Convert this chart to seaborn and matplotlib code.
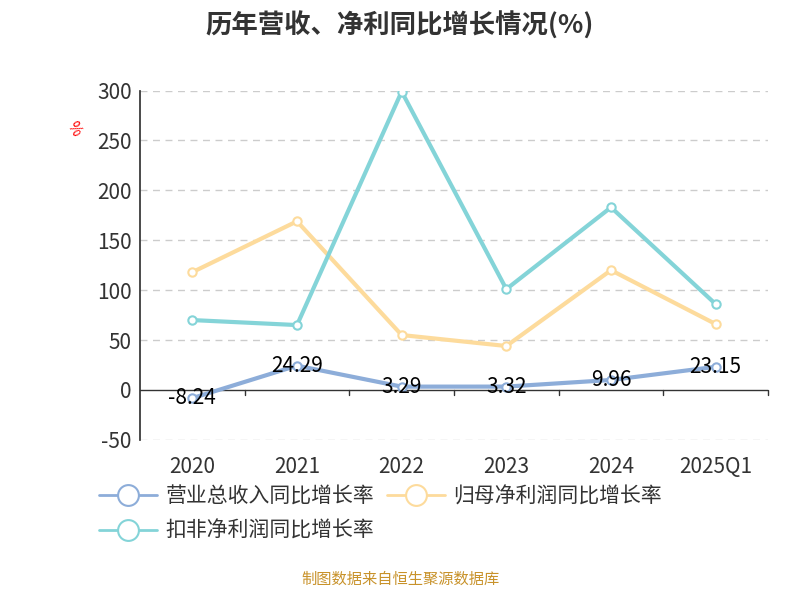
import matplotlib
matplotlib.use("Agg")
import matplotlib.pyplot as plt
import seaborn as sns
import pandas as pd
from matplotlib.lines import Line2D

sns.set_theme(style="white")
plt.rcParams['font.family'] = ['Noto Sans CJK SC', 'DejaVu Sans']
plt.rcParams['axes.unicode_minus'] = False

years = ["2020", "2021", "2022", "2023", "2024", "2025Q1"]
revenue = [-8.24, 24.29, 3.29, 3.32, 9.96, 23.15]
net_profit = [118, 169, 55, 44, 120, 66]
deducted = [70, 65, 299, 101, 183, 86]
names = ["营业总收入同比增长率", "归母净利润同比增长率", "扣非净利润同比增长率"]
colors = ["#8dadd9", "#fddb9c", "#84d4d8"]

df = pd.DataFrame({"year": years * 3,
                   "value": revenue + net_profit + deducted,
                   "series": sum([[n] * 6 for n in names], [])})

fig = plt.figure(figsize=(8, 6), dpi=100)
ax = fig.add_axes([0.175, 0.267, 0.785, 0.582])
for n, c in zip(names, colors):
    d = df[df.series == n]
    sns.lineplot(x=list(range(6)), y=d.value.values, ax=ax, color=c, lw=3,
                 marker='o', markersize=6, markerfacecolor='white',
                 markeredgecolor=c, markeredgewidth=1.5, legend=False)
for i, v in enumerate(revenue):
    ax.text(i, v, f"{v:.2f}", ha='center', va='center', fontsize=15, color='black')

ax.set_xlim(-0.5, 5.5)
ax.set_ylim(-50, 300)
ax.set_yticks(range(-50, 301, 50))
ax.set_xticks(range(6))
ax.set_xticklabels(years)
ax.tick_params(axis='x', length=0, pad=12, labelsize=15, labelcolor='#333333')
ax.tick_params(axis='y', length=0, pad=6, labelsize=15, labelcolor='#333333')
for s in ['top', 'right', 'bottom']:
    ax.spines[s].set_visible(False)
ax.spines['left'].set_color('#333333')
for y in range(-50, 301, 50):
    if y != 0:
        ax.axhline(y, color='#cccccc', ls=(0, (5, 4)), lw=1, zorder=0)
ax.axhline(0, color='#333333', lw=1, zorder=1)
for b in [0.5, 1.5, 2.5, 3.5, 4.5, 5.5]:
    ax.plot([b, b], [0, -5], color='#333333', lw=1, clip_on=False)
ax.set_xlabel("")
ax.text(-0.105, 0.89, "%", transform=ax.transAxes, color='red', rotation=-60,
        fontsize=11, ha='center', va='center')

fig.text(0.5, 0.958, "历年营收、净利同比增长情况(%)", ha='center', va='center',
         fontsize=19, fontweight='bold', color='#333333')

handles = [Line2D([0], [0], color=c, lw=2, marker='o', markersize=15,
                  markerfacecolor='white', markeredgecolor=c, markeredgewidth=1.5)
           for c in colors]
order = [0, 2, 1]
fig.legend([handles[i] for i in order], [names[i] for i in order], ncol=2,
           loc='upper left', bbox_to_anchor=(0.1, 0.222),
           frameon=False, fontsize=15, handlelength=2.8, columnspacing=0.6,
           labelspacing=0.6, handletextpad=0.4, labelcolor='#333333')
fig.text(0.5, 0.02, "制图数据来自恒生聚源数据库", ha='center', va='bottom',
         fontsize=11, color='#c8922a')
fig.savefig("out.png", dpi=100)
